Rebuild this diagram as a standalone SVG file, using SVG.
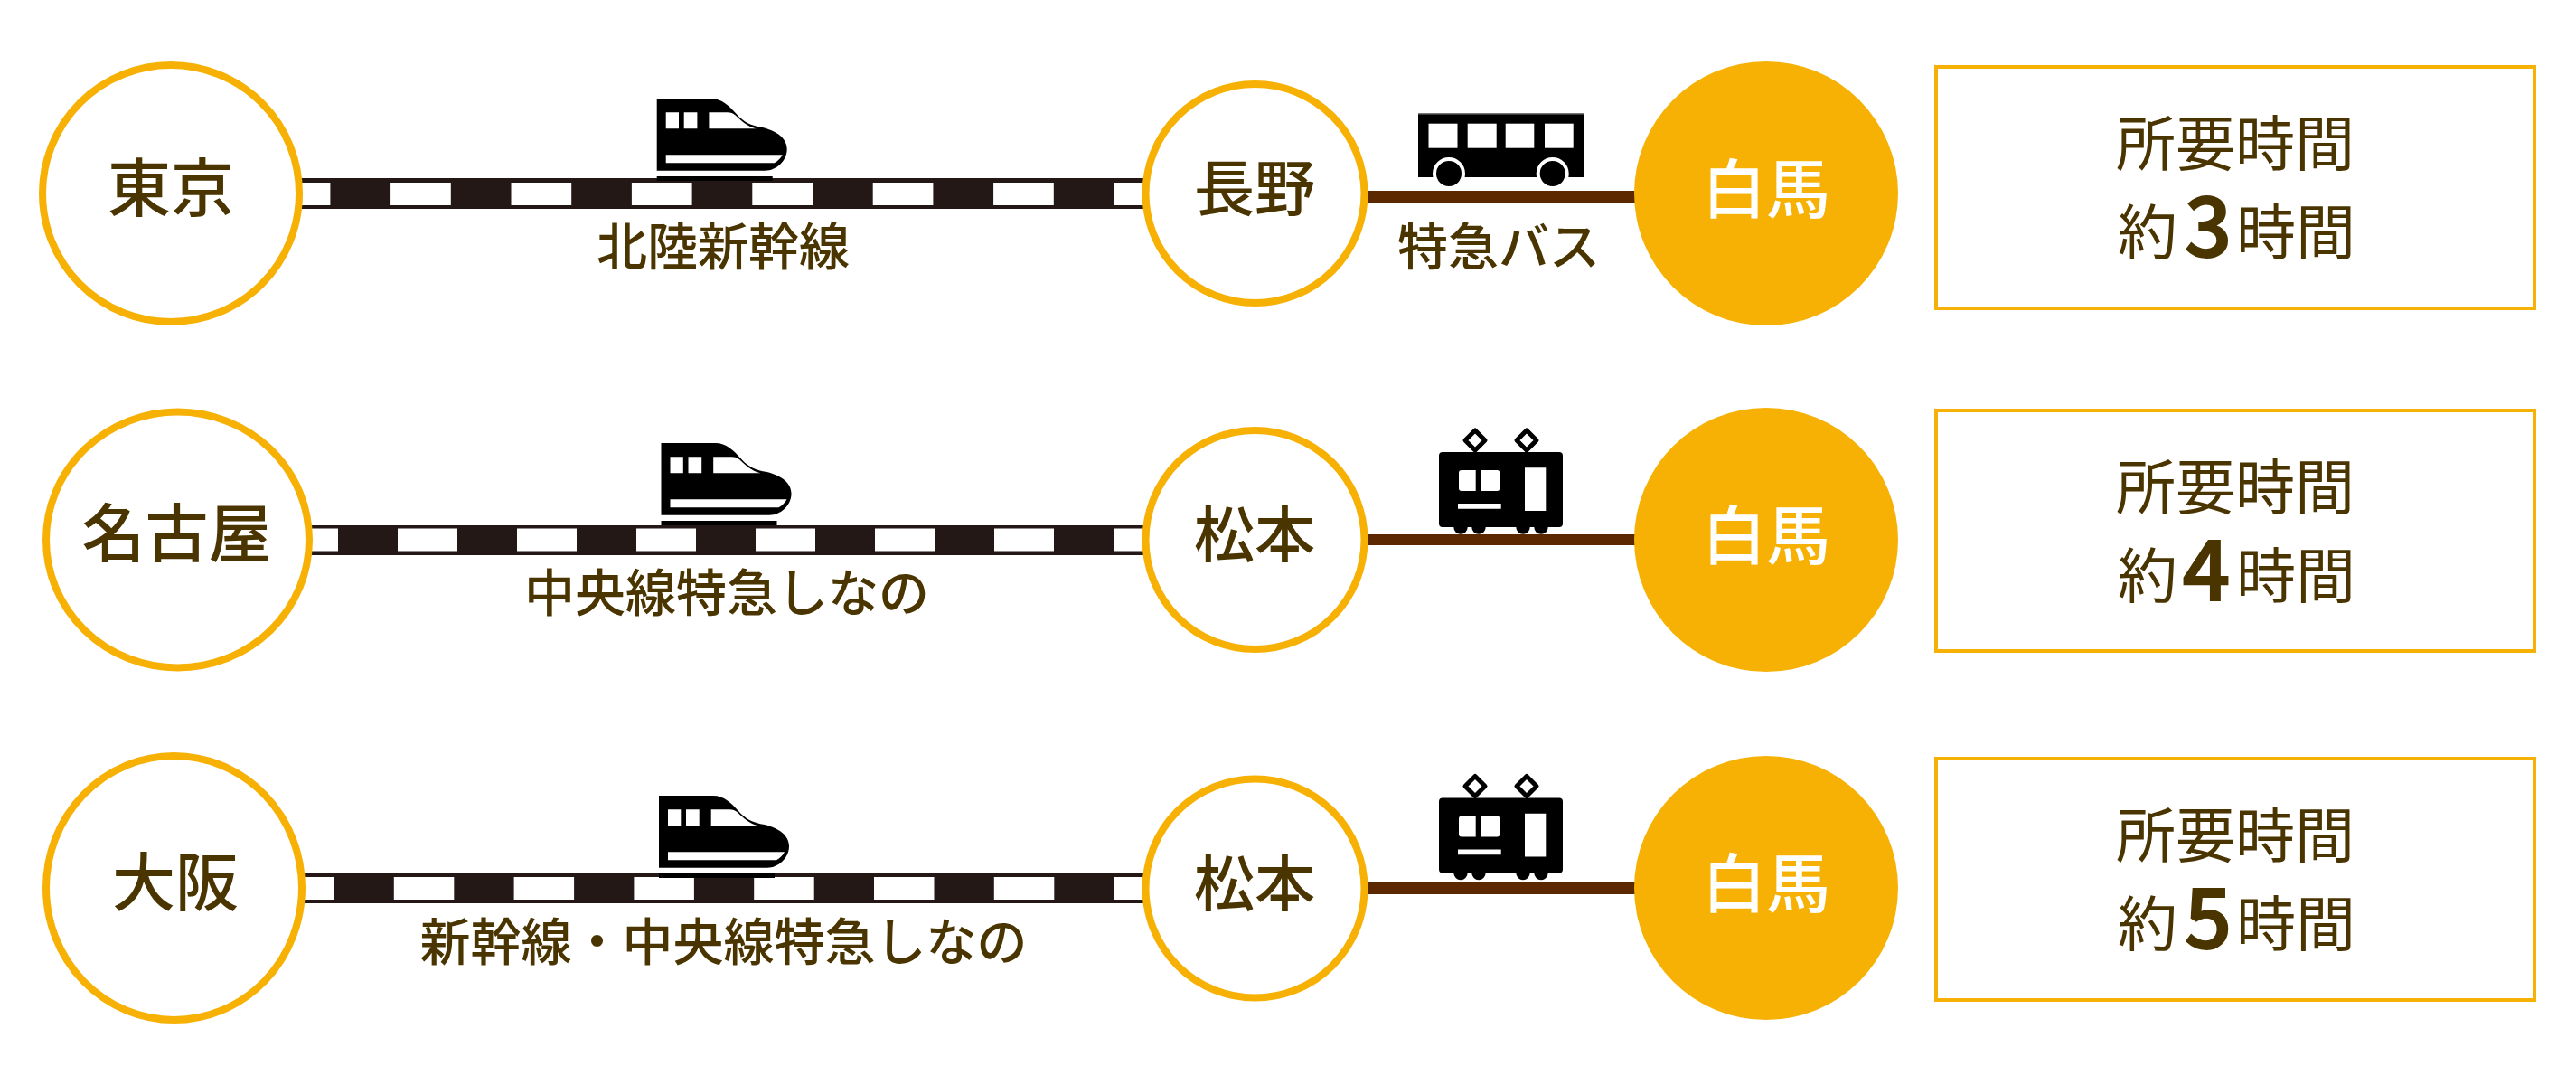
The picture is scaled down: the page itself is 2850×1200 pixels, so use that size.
<svg xmlns="http://www.w3.org/2000/svg" width="2850" height="1200" viewBox="0 0 2850 1200">
<style>
text{font-family:"Noto Sans CJK JP","Noto Sans CJK SC",sans-serif;fill:#4a3500;font-weight:500;text-anchor:middle}
.st{font-size:70px}
.st2{font-size:67px}
.lb{font-size:56px}
.tm{font-size:66px;font-weight:400}
.dg{font-size:92px;font-weight:500;stroke:#4a3500;stroke-width:2}
.hk{font-size:71px;fill:#fff}
.ring{fill:#fff;stroke:#f6b104;stroke-width:8}
.solid{fill:#f6b104}
.box{fill:#fff;stroke:#f6b104;stroke-width:4}
.bed{fill:#231815}
.ties{stroke:#fff;stroke-width:25;fill:none}
.road{fill:#5c2800}
</style>
<defs>
<g id="train">
<path fill="#000" fill-rule="evenodd" d="M0,0H60C72,0 80,8 88,17C96,26 104,30 117,32C133,36 144,44 144,56C144,69 132,79.700 120,79.700H0Z M10,15.300V33.300H24.300V15.300Z M30,15.300V33.300H44.700V15.300Z M57.700,15.300V33.300H110C100,31 94,25 87,18.500C84,16 82,15.300 78,15.300Z M10,62.300V71.300H130C134,69 137,66 139,62.300Z"/>
<rect y="86" width="128" height="5" fill="#000"/>
</g>
<g id="tram">
<path fill="none" stroke="#000" stroke-width="5" stroke-linejoin="round" d="M40,-24L51,-13L40,-2L29,-13Z M97,-24L108,-13L97,-2L86,-13Z"/>
<g fill="#000"><circle cx="24" cy="83" r="7.700"/><circle cx="44" cy="83" r="7.700"/><circle cx="93" cy="83" r="7.700"/><circle cx="113" cy="83" r="7.700"/></g>
<path fill="#000" fill-rule="evenodd" d="M4,0H133A4,4 0 0 1 137,4V79A4,4 0 0 1 133,83H4A4,4 0 0 1 0,79V4A4,4 0 0 1 4,0Z M22,20V40A3,3 0 0 0 25,43H40.700V20H25A3,3 0 0 0 22,23Z M46,20V43H64.300A3,3 0 0 0 67.300,40V23A3,3 0 0 0 64.300,20Z M21,57V62.700H68.700V57Z M95,17.300V65H118.300V17.300Z"/>
</g>
<g id="bus">
<rect width="183" height="71" fill="#000"/>
<rect width="183" height="1.500" fill="#777"/>
<g fill="#fff"><rect x="11.500" y="11.700" width="32" height="27"/><rect x="54.700" y="11.700" width="32" height="27"/><rect x="96.700" y="11.700" width="31.600" height="27"/><rect x="140" y="11.700" width="31.700" height="27"/></g>
<circle cx="34" cy="67" r="16" fill="#000" stroke="#fff" stroke-width="4"/><circle cx="148.700" cy="67" r="16" fill="#000" stroke="#fff" stroke-width="4"/>
</g>
</defs>
<rect width="2850" height="1200" fill="#fff"/>
<g id="connectors">
<rect class="bed" x="330" y="197" width="940" height="34"/><line class="ties" x1="298.700" y1="214.500" x2="1270" y2="214.500" stroke-dasharray="66.700 66.700"/>
<rect class="road" x="1510" y="211" width="300" height="13"/>
<rect class="bed" x="340" y="581" width="930" height="33"/><line class="ties" x1="308" y1="597" x2="1270" y2="597" stroke-dasharray="66 66"/>
<rect class="road" x="1510" y="591" width="300" height="12"/>
<rect class="bed" x="332" y="966" width="938" height="33"/><line class="ties" x1="303" y1="982.500" x2="1270" y2="982.500" stroke-dasharray="66.500 66.300"/>
<rect class="road" x="1510" y="976" width="300" height="13"/>
</g>
<g id="row1-vehicles"><use href="#train" x="726.700" y="109"/><use href="#bus" x="1569" y="125"/></g>
<g id="row2-vehicles"><use href="#train" x="731.500" y="490"/><use href="#tram" x="1592" y="500"/></g>
<g id="row3-vehicles"><use href="#train" x="729" y="880"/><use href="#tram" x="1592" y="882.500"/></g>
<g id="tokyo"><ellipse class="ring" cx="189" cy="214" rx="142" ry="142"/><text class="st" x="189" y="234">東京</text></g>
<text id="label-hokuriku" class="lb" x="800" y="293">北陸新幹線</text>
<g id="nagano"><ellipse class="ring" cx="1388.500" cy="214" rx="121" ry="121"/><text class="st2" x="1388" y="233">長野</text></g>
<text id="label-bus" class="lb" x="1658" y="293">特急バス</text>
<g id="hakuba1"><circle class="solid" cx="1954" cy="214" r="146"/><text class="hk" x="1954" y="235">白馬</text></g>
<g id="time1"><rect class="box" x="2142" y="74" width="662" height="267"/><text class="tm" x="2473" y="183">所要時間</text><text class="tm" x="2376" y="281">約</text><text class="dg" x="2443" y="284">3</text><text class="tm" x="2540" y="281">時間</text></g>

<g id="nagoya"><ellipse class="ring" cx="196.500" cy="597" rx="145.500" ry="141.500"/><text class="st" x="195.500" y="616">名古屋</text></g>
<text id="label-shinano1" class="lb" x="804" y="676">中央線特急しなの</text>
<g id="matsumoto1"><ellipse class="ring" cx="1388.500" cy="597" rx="121" ry="121"/><text class="st2" x="1388" y="616">松本</text></g>
<g id="hakuba2"><circle class="solid" cx="1954" cy="597" r="146"/><text class="hk" x="1954" y="618">白馬</text></g>
<g id="time2"><rect class="box" x="2142" y="454" width="662" height="266"/><text class="tm" x="2473" y="563">所要時間</text><text class="tm" x="2376" y="661">約</text><text class="dg" x="2441" y="664">4</text><text class="tm" x="2540" y="661">時間</text></g>

<g id="osaka"><ellipse class="ring" cx="192.500" cy="982" rx="141.500" ry="146"/><text class="st" x="194" y="1002">大阪</text></g>
<text id="label-shinano2" class="lb" x="800.500" y="1062">新幹線・中央線特急しなの</text>
<g id="matsumoto2"><ellipse class="ring" cx="1388.500" cy="982.500" rx="121" ry="121"/><text class="st2" x="1388" y="1002">松本</text></g>
<g id="hakuba3"><circle class="solid" cx="1954" cy="982" r="146"/><text class="hk" x="1954" y="1003">白馬</text></g>
<g id="time3"><rect class="box" x="2142" y="839" width="662" height="267"/><text class="tm" x="2473" y="948">所要時間</text><text class="tm" x="2376" y="1046">約</text><text class="dg" x="2443" y="1049">5</text><text class="tm" x="2540" y="1046">時間</text></g>
</svg>
